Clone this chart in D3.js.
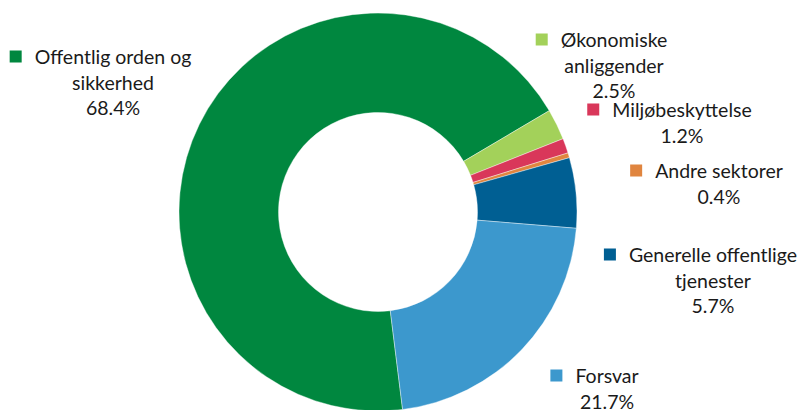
<!DOCTYPE html>
<html>
<head>
<meta charset="utf-8">
<script src="https://cdn.jsdelivr.net/npm/d3@7"></script>
<style>
  html, body { margin: 0; padding: 0; background: #fff; }
  .label { font-family: Lato, "Open Sans", sans-serif; font-size: 19.5px; fill: #1a1a1a; }
</style>
</head>
<body>
<div id="plot-area"></div>
<script>
// sector names (label lines) and shares in percent
const categories = [
    ["Offentlig orden og", "sikkerhed"],
    ["Økonomiske", "anliggender"],
    ["Miljøbeskyttelse"],
    ["Andre sektorer"],
    ["Generelle offentlige", "tjenester"],
    ["Forsvar"]
];
const shares = [68.4, 2.5, 1.2, 0.4, 5.7, 21.7];
const shareLabels = ["68.4%", "2.5%", "1.2%", "0.4%", "5.7%", "21.7%"];
const colors = ["#00873f", "#a3d15a", "#d9375a", "#e0853f", "#005f93", "#3c98cd"];

// label placement: text centre x, first baseline y
const labelPos = [
    [113, 64], [614, 47], [682, 117], [719, 178], [713, 262], [607, 383]
];

const width = 803, height = 410;
const center = {x: 378, y: 212},
    outerR = 199,
    innerR = 99.5,
    lineHeight = 25.6;

const svg = d3.select("#plot-area").append("svg")
    .attr("width", width)
    .attr("height", height);

const pie = d3.pie()
    .sort(null)
    .value(function(d) { return d; })
    .startAngle(172.9 * Math.PI / 180)
    .endAngle((172.9 + 360) * Math.PI / 180);

const arc = d3.arc().innerRadius(innerR).outerRadius(outerR);

const g = svg.append("g").attr("transform", "translate(" + center.x + "," + center.y + ")");

g.selectAll("path")
    .data(pie(shares))
    .enter().append("path")
    .attr("d", arc)
    .attr("fill", function(d, i) { return colors[i]; })
    .attr("stroke", "#fff")
    .attr("stroke-width", 0.4);

//Draw labels with legend key in front of first line
categories.forEach(function(lines, i) {
    let cx = labelPos[i][0], y0 = labelPos[i][1];
    let allLines = lines.concat([shareLabels[i]]);
    let text = svg.append("text")
        .attr("class", "label")
        .attr("text-anchor", "middle");
    allLines.forEach(function(line, j) {
        text.append("tspan")
            .attr("x", cx)
            .attr("y", y0 + j * lineHeight)
            .text(line);
    });
    let firstWidth = text.select("tspan").node().getComputedTextLength();
    svg.append("rect")
        .attr("x", cx - firstWidth / 2 - 25)
        .attr("y", y0 - 13.5)
        .attr("width", 12)
        .attr("height", 12)
        .attr("fill", colors[i]);
});
</script>
</body>
</html>
